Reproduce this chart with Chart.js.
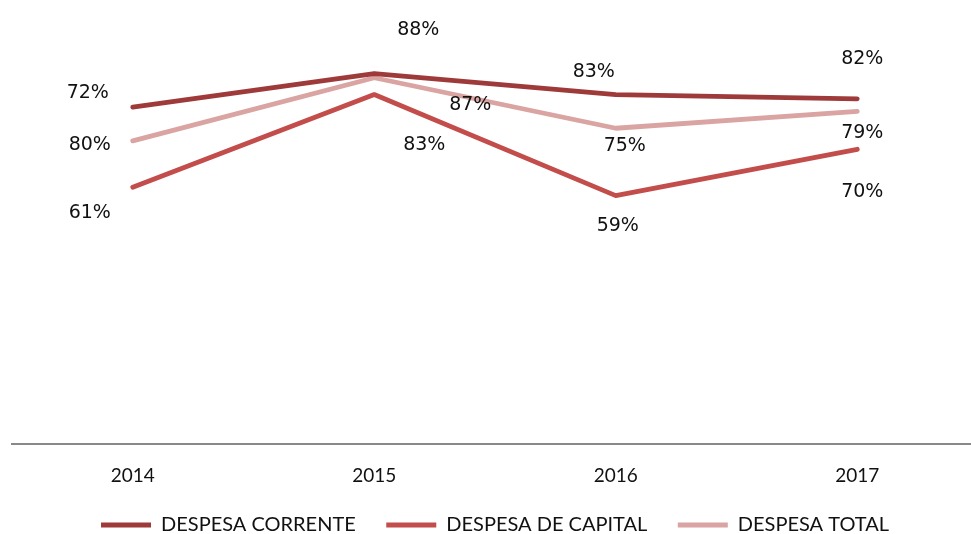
<!DOCTYPE html>
<html>
<head>
<meta charset="utf-8">
<script src="https://cdn.jsdelivr.net/npm/chart.js@4"></script>
<style>
  html, body { margin: 0; padding: 0; background: #fff; overflow: hidden; }
  #wrap { width: 980px; height: 534px; }
</style>
</head>
<body>
<div id="wrap"><canvas id="chart"></canvas></div>
<script>
const years = ["2014", "2015", "2016", "2017"];
const seriesNames = ["DESPESA CORRENTE", "DESPESA DE CAPITAL", "DESPESA TOTAL"];

// line values (%)
const despesaCorrente = [80, 88, 83, 82];
const despesaCapital = [61, 83, 59, 70];
const despesaTotal = [72, 87, 75, 79];

// labels as printed on the chart
const correnteLabels = [72, 88, 83, 82];
const capitalLabels = [61, 83, 59, 70];
const totalLabels = [80, 87, 75, 79];

// where each label sits relative to its point
const labelOffsets = [
  [[-45, -14], [44, -43], [-22, -23], [5, -40]],
  [[-43, 26], [50, 50], [2, 30], [5, 43]],
  [[-43, 4], [96, 27], [9, 18], [5, 22]]
];
const labelValues = [correnteLabels, capitalLabels, totalLabels];

const pointLabels = {
  id: "pointLabels",
  afterDatasetsDraw(chart) {
    const ctx = chart.ctx;
    ctx.save();
    ctx.font = "19px 'DejaVu Sans'";
    ctx.fillStyle = "#111";
    ctx.textAlign = "center";
    ctx.textBaseline = "middle";
    chart.data.datasets.forEach((ds, i) => {
      chart.getDatasetMeta(i).data.forEach((pt, j) => {
        const off = labelOffsets[i][j];
        ctx.fillText(labelValues[i][j] + "%", pt.x + off[0], pt.y + off[1]);
      });
    });
    ctx.restore();
  }
};

const line = (label, data, color) => ({
  label,
  data,
  borderColor: color,
  backgroundColor: color,
  borderWidth: 4.8,
  borderCapStyle: "round",
  borderJoinStyle: "round",
  pointRadius: 0,
  tension: 0
});

new Chart(document.getElementById("chart").getContext("2d"), {
  type: "line",
  data: {
    labels: years,
    datasets: [
      line(seriesNames[0], despesaCorrente, "#9e3b3a"),
      line(seriesNames[1], despesaCapital, "#c24d4b"),
      line(seriesNames[2], despesaTotal, "#d9a4a2")
    ]
  },
  options: {
    responsive: true,
    maintainAspectRatio: false,
    animation: false,
    layout: { padding: { top: 23, left: 12, right: 2, bottom: -11 } },
    plugins: {
      tooltip: { enabled: false },
      legend: {
        position: "bottom",
        labels: {
          usePointStyle: true,
          pointStyle: "line",
          pointStyleWidth: 50,
          padding: 28,
          color: "#111",
          font: { family: "Lato", size: 20 },
          generateLabels(chart) {
            const items = Chart.defaults.plugins.legend.labels.generateLabels(chart);
            // a little extra room after each name, like the spacing in the original
            items.forEach((it, i) => { if (i < items.length - 1) it.text += "\u2009"; });
            return items;
          }
        }
      }
    },
    scales: {
      x: {
        offset: true,
        grid: { display: false, drawTicks: false },
        border: { display: true, color: "#898989", width: 2 },
        ticks: { color: "#111", padding: 20, font: { family: "Lato", size: 19 } },
        afterFit(scale) { scale.height = 43; }
      },
      y: {
        display: false,
        min: 0,
        max: 100
      }
    }
  },
  plugins: [pointLabels]
});
</script>
</body>
</html>
